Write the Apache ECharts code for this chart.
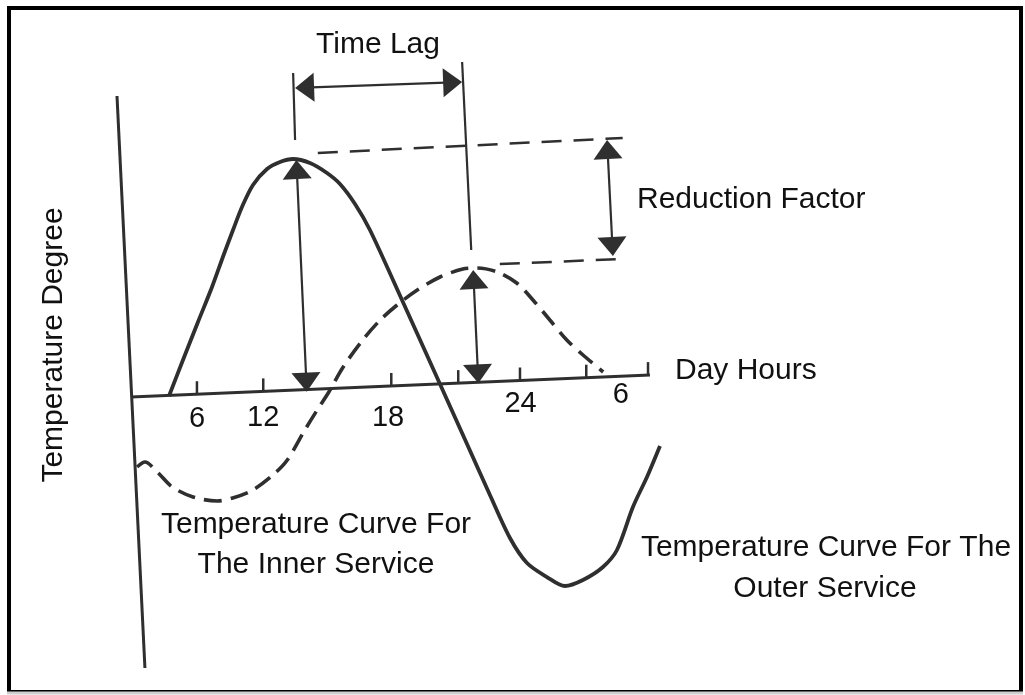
<!DOCTYPE html>
<html>
<head>
<meta charset="utf-8">
<script src="https://cdn.jsdelivr.net/npm/echarts@6.0.0/dist/echarts.min.js"></script>
<style>
html,body{margin:0;padding:0;background:#fff;}
#chart{width:1025px;height:695px;}
</style>
</head>
<body>
<div id="chart"></div>
<script>
// ---- data (x: hour-tick steps from origin, y: temperature units) ----
const outerX = [0.60,0.815,1.046,1.262,1.446,1.585,1.723,1.892,2.108,2.308,2.508,2.769,3.031,3.231,3.462,3.692,4.185,4.769,5.185,5.538,5.846,6.108,6.415,6.692,6.969,7.277,7.492,7.738,7.954,8.154];
const outerY = [0.1,3.7,7.5,11.0,14.3,16.7,19.0,21.2,22.8,23.5,23.8,23.4,22.4,21.3,19.3,16.7,9.7,1.3,-4.7,-9.8,-14.1,-16.6,-18.0,-18.9,-18.3,-17.0,-15.3,-11.0,-8.0,-4.9];

const innerX = [0.11,0.23,0.42,0.65,0.97,1.34,1.58,1.89,2.20,2.42,2.69,2.88,3.05,3.28,3.58,3.85,4.11,4.42,4.77,5.12,5.34,5.65,5.95,6.20,6.46,6.72,6.97,7.28];
const innerY = [-7.0,-6.5,-7.5,-9.0,-10.0,-10.4,-10.1,-9.3,-7.8,-6.3,-3.3,-1.3,0.4,3.0,5.7,7.7,9.2,10.7,12.0,12.8,12.9,12.5,11.4,9.7,7.7,5.7,4.2,2.5];

const hourAxisX = [0.015, 8.0];
const hourAxisY = [0.0, 2.2];
const tempAxisX = [-0.2, 0.23];
const tempAxisY = [30.1, -27.1];

const tickX = [1.03, 2.05, 4.02, 5.05, 6.0, 7.02, 7.97];
const tickLabels = ['6', '12', '18', '24', '6'];
const tickLabelX = [1.03, 2.05, 3.97, 6.01, 7.55];
const tickLabelY = [-2.15, -2.1, -2.13, -0.65, 0.2];

const timeLagArrow = [2.54, 30.9, 5.11, 31.5];
const outerPeakArrow = [2.56, 23.7, 2.72, 0.53];
const innerPeakArrow = [5.28, 12.7, 5.36, 1.37];
const reductionArrow = [7.34, 25.7, 7.43, 14.1];

const lagLeftGuide = [2.51, 32.4, 2.54, 25.7];
const lagRightGuide = [5.11, 33.5, 5.25, 14.7];
const reductionTopGuide = [2.89, 24.4, 7.58, 25.9];
const reductionBottomGuide = [5.69, 13.3, 7.58, 13.8];

// ---- styles ----
const INK = '#2f2f2f';
const TEXT = '#111';
const FONT = "'Liberation Sans', Arial, sans-serif";

function zip(xs, ys){ return xs.map((x,i)=>[x, ys[i]]); }

function segmentRenderer(stroke, width, dash){
  return function(params, api){
    const a = api.coord([api.value(0), api.value(1)]);
    const b = api.coord([api.value(2), api.value(3)]);
    return {type:'line', shape:{x1:a[0],y1:a[1],x2:b[0],y2:b[1]},
      style:{stroke:stroke, lineWidth:width, lineDash:dash || null, lineCap:'butt'}};
  };
}

function arrowRenderer(params, api){
  const a = api.coord([api.value(0), api.value(1)]);
  const b = api.coord([api.value(2), api.value(3)]);
  const dx = b[0]-a[0], dy = b[1]-a[1];
  const len = Math.hypot(dx, dy);
  const ux = dx/len, uy = dy/len;
  const L = 19, W = 14.5;
  function head(p, sx, sy){
    const bx = p[0]-sx*L, by = p[1]-sy*L;
    return {type:'polygon', shape:{points:[[p[0],p[1]],[bx - sy*W, by + sx*W],[bx + sy*W, by - sx*W]]},
      style:{fill:INK}};
  }
  return {type:'group', children:[
    {type:'line', shape:{x1:a[0]+ux*L*0.5,y1:a[1]+uy*L*0.5,x2:b[0]-ux*L*0.5,y2:b[1]-uy*L*0.5}, style:{stroke:INK, lineWidth:2.2}},
    head(b, ux, uy), head(a, -ux, -uy)
  ]};
}

function baselineAt(u){
  return hourAxisY[0] + (u - hourAxisX[0])*(hourAxisY[1]-hourAxisY[0])/(hourAxisX[1]-hourAxisX[0]);
}

const chart = echarts.init(document.getElementById('chart'), null, {renderer:'canvas'});
chart.setOption({
  animation: false,
  backgroundColor: '#fff',
  grid: {left:0, right:0, top:0, bottom:0},
  xAxis: {type:'value', min:-2, max:13.77, show:false},
  yAxis: {type:'value', min:-29.8, max:39.7, show:false},
  graphic: [
    {type:'rect', shape:{x:9, y:8, width:1012, height:684}, style:{fill:'none', stroke:'#000', lineWidth:4}, z:100},
    {type:'line', shape:{x1:7, y1:693, x2:1023, y2:693}, style:{stroke:'#cfcfcf', lineWidth:3}, z:101},
    {type:'text', x:378, y:45, style:{text:'Time Lag', font:'30px '+FONT, fill:TEXT, align:'center', verticalAlign:'middle'}},
    {type:'text', x:637, y:200, style:{text:'Reduction Factor', font:'30px '+FONT, fill:TEXT, align:'left', verticalAlign:'middle'}},
    {type:'text', x:675, y:371, style:{text:'Day Hours', font:'30px '+FONT, fill:TEXT, align:'left', verticalAlign:'middle'}},
    {type:'text', x:316, y:525, style:{text:'Temperature Curve For', font:'30px '+FONT, fill:TEXT, align:'center', verticalAlign:'middle'}},
    {type:'text', x:316, y:565, style:{text:'The Inner Service', font:'30px '+FONT, fill:TEXT, align:'center', verticalAlign:'middle'}},
    {type:'text', x:826, y:548, style:{text:'Temperature Curve For The', font:'30px '+FONT, fill:TEXT, align:'center', verticalAlign:'middle'}},
    {type:'text', x:825, y:589, style:{text:'Outer Service', font:'30px '+FONT, fill:TEXT, align:'center', verticalAlign:'middle'}},
    {type:'text', x:54, y:345, rotation:Math.PI/2, style:{text:'Temperature Degree', font:'30px '+FONT, fill:TEXT, align:'center', verticalAlign:'middle'}}
  ],
  series: [
    {type:'custom', name:'axes', renderItem: segmentRenderer(INK, 3), encode:{x:[0,2], y:[1,3]},
      data:[[hourAxisX[0],hourAxisY[0],hourAxisX[1],hourAxisY[1]],[tempAxisX[0],tempAxisY[0],tempAxisX[1],tempAxisY[1]]]},
    {type:'custom', name:'ticks', encode:{x:0, y:1},
      renderItem: function(params, api){
        const u = api.value(0);
        const p = api.coord([u, baselineAt(u)]);
        return {type:'line', shape:{x1:p[0], y1:p[1], x2:p[0], y2:p[1]-13}, style:{stroke:INK, lineWidth:2.5}};
      },
      data: tickX.map(u => [u, baselineAt(u)])},
    {type:'custom', name:'tickLabels', encode:{x:0, y:1},
      renderItem: function(params, api){
        const p = api.coord([api.value(0), api.value(1)]);
        return {type:'text', x:p[0], y:p[1], style:{text:tickLabels[params.dataIndex], font:'29px '+FONT, fill:TEXT, align:'center', verticalAlign:'middle'}};
      },
      data: zip(tickLabelX, tickLabelY)},
    {type:'line', name:'Outer surface', data: zip(outerX, outerY), smooth:0.3, showSymbol:false,
      lineStyle:{color:INK, width:3.8}, z:3},
    {type:'line', name:'Inner surface', data: zip(innerX, innerY), smooth:0.3, showSymbol:false,
      lineStyle:{color:INK, width:3.6, type:[18,9]}, z:3},
    {type:'custom', name:'guides', renderItem: segmentRenderer(INK, 2.2), encode:{x:[0,2], y:[1,3]},
      data:[lagLeftGuide, lagRightGuide]},
    {type:'custom', name:'reductionGuides', renderItem: segmentRenderer(INK, 2.5, [20,12]), encode:{x:[0,2], y:[1,3]},
      data:[reductionTopGuide, reductionBottomGuide]},
    {type:'custom', name:'arrows', renderItem: arrowRenderer, encode:{x:[0,2], y:[1,3]}, z:4,
      data:[timeLagArrow, outerPeakArrow, innerPeakArrow, reductionArrow]}
  ]
});
</script>
</body>
</html>
